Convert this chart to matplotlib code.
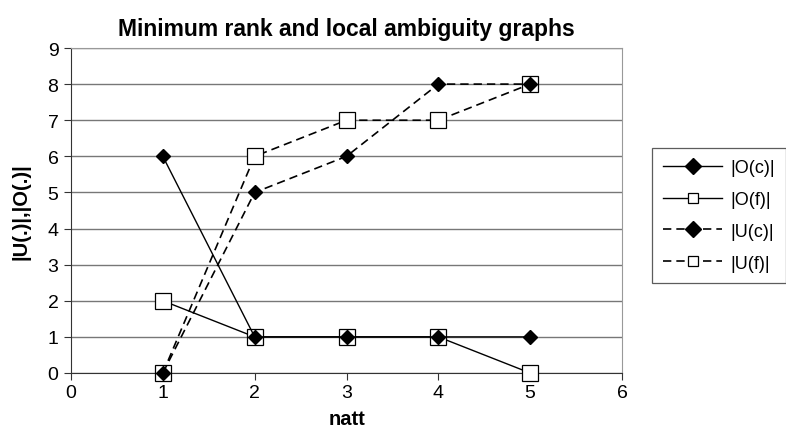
import matplotlib
matplotlib.use("Agg")
import matplotlib.pyplot as plt

plt.rcParams['font.family'] = ['Liberation Sans', 'DejaVu Sans']

natt = [1, 2, 3, 4, 5]
o_c = [6, 1, 1, 1, 1]
o_f = [2, 1, 1, 1, 0]
u_c = [0, 5, 6, 8, 8]
u_f = [0, 6, 7, 7, 8]

W, H = 786, 439
fig = plt.figure(figsize=(W / 100, H / 100), dpi=100)
# axes box in pixels: x 71..622, y 49..374
ax = fig.add_axes([71 / W, 1 - 374 / H, (622 - 71) / W, (374 - 49) / H])

dia = dict(marker='D', ms=7.5, mfc='black', mec='black', clip_on=False)
sq = dict(marker='s', ms=11, mfc='white', mec='black', mew=0.9, clip_on=False)
ax.plot(natt, o_c, '-', color='black', lw=1, label='|O(c)|', zorder=4, **dia)
ax.plot(natt, o_f, '-', color='black', lw=1, label='|O(f)|', zorder=3, **sq)
ax.plot(natt, u_c, '--', color='black', lw=1.2, dashes=(5, 3), label='|U(c)|', zorder=4, **dia)
ax.plot(natt, u_f, '--', color='black', lw=1.2, dashes=(5, 3), label='|U(f)|', zorder=3, **sq)

ax.set_xlim(0, 6)
ax.set_ylim(0, 9)
ax.set_xticks(range(0, 7))
ax.set_yticks(range(0, 10))
ax.yaxis.grid(True, color='#777777', lw=1)
ax.set_axisbelow(True)
for s in ['top', 'right']:
    ax.spines[s].set_color('#999999')
for s in ['left', 'bottom']:
    ax.spines[s].set_color('#333333')
ax.tick_params(axis='both', direction='out', length=5, labelsize=14, color='#333333')
ax.tick_params(axis='x', pad=3)
ax.tick_params(axis='y', pad=4)

ax.set_title('Minimum rank and local ambiguity graphs', fontsize=16.5, fontweight='bold', pad=9)
ax.set_xlabel('natt', fontsize=14.5, fontweight='bold', labelpad=6)
ax.set_ylabel('|U(.)|,|O(.)|', fontsize=14.5, fontweight='bold', labelpad=12)

leg = fig.legend(loc='upper left', bbox_to_anchor=(652 / W, 1 - 149 / H), frameon=True, fancybox=False,
                 edgecolor='#333333', fontsize=13, handlelength=3.3, borderpad=0.6, labelspacing=0.83,
                 handletextpad=0.45, borderaxespad=0)
leg.get_frame().set_linewidth(0.9)
for h, m in zip(leg.legend_handles, [8, 7, 8, 7]):
    h.set_markersize(m)

fig.savefig('out.png', dpi=100)
